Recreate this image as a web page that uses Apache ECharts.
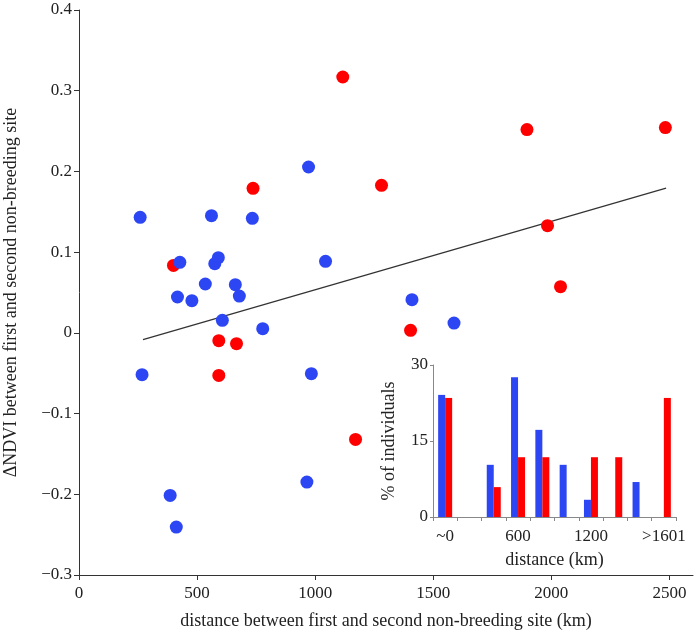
<!DOCTYPE html>
<html>
<head>
<meta charset="utf-8">
<script src="https://cdn.jsdelivr.net/npm/echarts@6/dist/echarts.min.js"></script>
<style>html,body{margin:0;padding:0;background:#fff}#c{width:695px;height:632px}</style>
</head>
<body>
<div id="c"></div>
<script>
// main scatter: [distance km, delta NDVI]
const bluePoints = [
  [972, 0.2055], [259, 0.1431], [561, 0.1452], [734, 0.1419], [427, 0.0874],
  [590, 0.0932], [575, 0.0857], [1044, 0.0886], [535, 0.0605], [662, 0.0597],
  [679, 0.0456], [417, 0.0444], [478, 0.0399], [607, 0.0155], [778, 0.0052],
  [267, -0.0518], [984, -0.0506], [965, -0.1849], [386, -0.2014], [412, -0.2406],
  [1410, 0.0411], [1588, 0.0121]
];
const redPoints = [
  [1117, 0.3170], [737, 0.1791], [1281, 0.1828], [400, 0.0836], [592, -0.0097],
  [667, -0.0134], [592, -0.0527], [1171, -0.1320], [1897, 0.2518], [2483, 0.2543],
  [1984, 0.1328], [2039, 0.0572], [1404, 0.0031]
];
const trendLine = [[271, -0.0084], [2486, 0.1794]];
const xTicks = [0, 500, 1000, 1500, 2000, 2500];
const yTicks = [-0.3, -0.2, -0.1, 0, 0.1, 0.2, 0.3, 0.4];

// inset histogram
const binCategories = ['~0', '200', '400', '600', '800', '1000', '1200', '1400', '1600', '>1601'];
const blueHist = [24.1, 0, 10.3, 27.6, 17.2, 10.3, 3.4, 0, 6.9, 0];
const redHist = [23.5, 0, 5.9, 11.8, 11.8, 0, 11.8, 11.8, 0, 23.5];
const insetTicks = [0, 15, 30];

const BLUE = '#2d46f4';
const RED = '#fe0000';
const FONT = 'Liberation Serif';
const TXT = '#222';
const TICK_FS = 17;
const NAME_FS = 18;

const chart = echarts.init(document.getElementById('c'), null, {renderer: 'canvas'});
const fmtY = v => {
  const r = Math.round(v * 10) / 10;
  if (r === 0) return '0';
  return r < 0 ? '\u2212' + Math.abs(r).toFixed(1) : r.toFixed(1);
};
chart.setOption({
  animation: false,
  backgroundColor: '#fff',
  textStyle: {fontFamily: FONT, color: TXT},
  grid: [
    {left: 79, right: 2, top: 10, bottom: 57, containLabel: false, outerBoundsMode: 'none'},
    {left: 433, right: 19, top: 365, bottom: 115, containLabel: false, outerBoundsMode: 'none'}
  ],
  xAxis: [
    {
      type: 'value', gridIndex: 0, min: 0, max: 2600,
      name: 'distance between first and second non-breeding site (km)',
      nameLocation: 'middle', nameGap: 37,
      nameTextStyle: {fontFamily: FONT, fontSize: NAME_FS, color: TXT},
      axisLine: {show: true, onZero: false, lineStyle: {color: '#333', width: 1}},
      axisTick: {show: true, length: 5, customValues: xTicks, lineStyle: {color: '#333'}},
      axisLabel: {customValues: xTicks, formatter: v => String(v), fontFamily: FONT, fontSize: TICK_FS, color: TXT, margin: 10},
      splitLine: {show: false}
    },
    {
      type: 'category', gridIndex: 1, data: binCategories,
      name: 'distance (km)', nameLocation: 'middle', nameGap: 34,
      nameTextStyle: {fontFamily: FONT, fontSize: NAME_FS, color: TXT},
      axisLine: {show: true, lineStyle: {color: '#888', width: 1}},
      axisTick: {show: true, length: 4, interval: 0, lineStyle: {color: '#888'}},
      axisLabel: {interval: 2, fontFamily: FONT, fontSize: TICK_FS, color: TXT, margin: 11},
      splitLine: {show: false}
    }
  ],
  yAxis: [
    {
      type: 'value', gridIndex: 0, min: -0.3, max: 0.4, interval: 0.1,
      name: '\u0394NDVI between first and second non-breeding site',
      nameLocation: 'middle', nameGap: 59, nameRotate: 90,
      nameTextStyle: {fontFamily: FONT, fontSize: NAME_FS, color: TXT},
      axisLine: {show: true, onZero: false, lineStyle: {color: '#333', width: 1}},
      axisTick: {show: true, length: 5, lineStyle: {color: '#333'}},
      axisLabel: {formatter: fmtY, fontFamily: FONT, fontSize: TICK_FS, color: TXT, margin: 7},
      splitLine: {show: false}
    },
    {
      type: 'value', gridIndex: 1, min: 0, max: 30, interval: 15,
      name: '% of individuals', nameLocation: 'middle', nameGap: 35, nameRotate: 90,
      nameTextStyle: {fontFamily: FONT, fontSize: NAME_FS, color: TXT},
      axisLine: {show: true, lineStyle: {color: '#888', width: 1}},
      axisTick: {show: true, length: 3, lineStyle: {color: '#888'}},
      axisLabel: {fontFamily: FONT, fontSize: TICK_FS, color: TXT, margin: 5},
      splitLine: {show: false}
    }
  ],
  series: [
    {
      type: 'line', xAxisIndex: 0, yAxisIndex: 0, data: trendLine,
      symbol: 'none', lineStyle: {color: '#333', width: 1.2}, z: 1, silent: true
    },
    {
      type: 'scatter', xAxisIndex: 0, yAxisIndex: 0, data: bluePoints,
      symbolSize: 13, itemStyle: {color: BLUE, opacity: 1}, z: 3
    },
    {
      type: 'scatter', xAxisIndex: 0, yAxisIndex: 0, data: redPoints,
      symbolSize: 13, itemStyle: {color: RED, opacity: 1}, z: 2
    },
    {
      type: 'bar', xAxisIndex: 1, yAxisIndex: 1, data: blueHist,
      barWidth: 7, barGap: '0%', itemStyle: {color: BLUE}
    },
    {
      type: 'bar', xAxisIndex: 1, yAxisIndex: 1, data: redHist,
      barWidth: 7, barGap: '0%', itemStyle: {color: RED}
    }
  ]
});
</script>
</body>
</html>
